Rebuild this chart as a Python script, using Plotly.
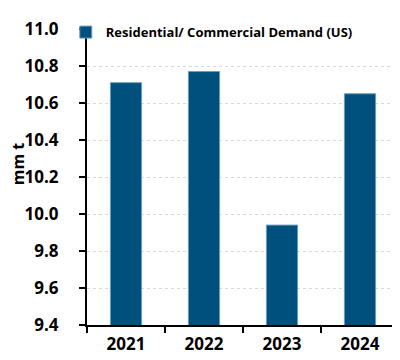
import plotly.graph_objects as go

years = ["2021", "2022", "2023", "2024"]
demand = [10.71, 10.77, 9.94, 10.65]
series_name = "Residential/ Commercial Demand (US)"
y_ticks = [9.4, 9.6, 9.8, 10.0, 10.2, 10.4, 10.6, 10.8, 11.0]
y_title = "mm t"

fig = go.Figure()
fig.add_trace(go.Bar(
    x=years, y=demand, name=series_name,
    marker=dict(color="#00507D", line=dict(color="#6f9cbd", width=1)),
    showlegend=True,
))

font_family = "'Open Sans', sans-serif"
fig.update_layout(
    width=400, height=360,
    margin=dict(l=79, r=9, t=15, b=43),
    paper_bgcolor="white", plot_bgcolor="white",
    bargap=0.6,
    font=dict(family=font_family, color="black"),
    showlegend=True,
    legend=dict(x=-0.068, y=1.04, xanchor="left", yanchor="top",
                font=dict(size=13, family=font_family, weight="bold"),
                bgcolor="rgba(0,0,0,0)", itemwidth=30),
    xaxis=dict(
        showline=True, linecolor="black", linewidth=2,
        ticks="outside", tickson="boundaries", ticklen=6, tickwidth=2, tickcolor="black",
        tickfont=dict(size=17, weight="bold"),
        ticklabelstandoff=3,
        showgrid=False,
    ),
    yaxis=dict(
        range=[9.4, 11.0], tickvals=y_ticks, ticktext=[f"{v:.1f}" for v in y_ticks],
        showline=True, linecolor="black", linewidth=2,
        ticks="outside", ticklen=6, tickwidth=2, tickcolor="black",
        tickfont=dict(size=17, weight="bold"),
        ticklabelstandoff=17,
        showgrid=True, gridcolor="#d9d9d9", griddash="dot", gridwidth=1,
        zeroline=False,
    ),
    annotations=[dict(
        text=y_title, textangle=-90, xref="paper", yref="paper",
        x=(10 - 79) / 312, y=(317 - 153) / 302, xanchor="center", yanchor="middle",
        showarrow=False, borderpad=0,
        font=dict(size=16, weight="bold", family=font_family),
    )],
)

fig.write_html("out.html")
